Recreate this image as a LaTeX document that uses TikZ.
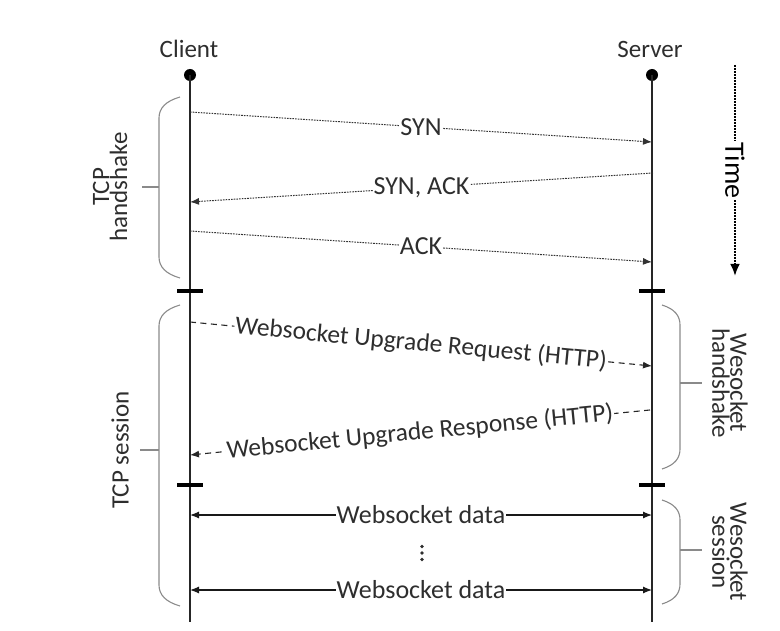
\documentclass[tikz,border=0pt]{standalone}
\usepackage{fontspec}
\setmainfont{Carlito}
\usetikzlibrary{arrows.meta}
\definecolor{inkgray}{HTML}{2E2E2E}
\definecolor{bracegray}{HTML}{8A8A8A}
\begin{document}
\begin{tikzpicture}[x=1pt,y=-1pt,
  lifeline/.style={line width=1.4pt, draw=black!85},
  lifedot/.style={circle, fill=black, inner sep=0pt, minimum size=12pt},
  actor/.style={text=inkgray, font=\fontsize{25}{28}\selectfont},
  tip/.style={-{Latex[length=9pt,width=7pt]}},
  tcpmsg/.style={draw=black!80, line width=1pt, dash pattern=on 1.6pt off 1.1pt, tip},
  wsmsg/.style={draw=black!85, line width=1.1pt, dash pattern=on 6pt off 4.5pt, tip},
  datamsg/.style={draw=black!90, line width=1.2pt, {Latex[length=9pt,width=7pt]}-{Latex[length=9pt,width=7pt]}},
  msglabel/.style={fill=white, inner sep=1pt, text=inkgray, font=\fontsize{26}{28}\selectfont},
  wslabel/.style={msglabel, font=\fontsize{25.5}{28}\selectfont},
  phasebar/.style={line width=3.5pt, draw=black},
  bracket/.style={draw=bracegray, line width=1.1pt},
  sidelabel/.style={text=inkgray, align=center, font=\fontsize{25}{18}\selectfont},
  timeline/.style={draw=black, line width=2.6pt, dash pattern=on 1.6pt off 1.4pt,
                   -{Latex[length=12pt,width=10pt]}}
]
\useasboundingbox (0,0) rectangle (780,631);

% actors and lifelines
\node[actor] (client) at (189,49) {Client};
\node[actor] (server) at (650,49) {Server};
\node[lifedot] (cdot) at (190,75) {};
\node[lifedot] (sdot) at (652,75) {};
\coordinate (cend) at (190,622);
\coordinate (send) at (652,622);
\draw[lifeline] (cdot.center) -- (cend);
\draw[lifeline] (sdot.center) -- (send);

% message end points on the lifelines
\coordinate (c1) at (190,112); \coordinate (s1) at (652,142);
\coordinate (s2) at (653,173); \coordinate (c2) at (190,202);
\coordinate (c3) at (190,231); \coordinate (s3) at (652,262);
\coordinate (c4) at (190,322); \coordinate (s4) at (652,366);
\coordinate (s5) at (650,410); \coordinate (c5) at (190,455);
\coordinate (c6) at (190,515); \coordinate (s6) at (652,515);
\coordinate (c7) at (190,590); \coordinate (s7) at (652,590);

% TCP three-way handshake
\draw[tcpmsg] (c1) -- node[msglabel] (syn) {SYN} (s1);
\draw[tcpmsg] (s2) -- node[msglabel] (synack) {SYN, ACK} (c2);
\draw[tcpmsg] (c3) -- node[msglabel] (ack) {ACK} (s3);

% WebSocket upgrade
\draw[wsmsg] (c4) -- node[wslabel, sloped] (wsreq) {Websocket Upgrade Request (HTTP)} (s4);
\draw[wsmsg] (s5) -- node[wslabel, sloped] (wsresp) {Websocket Upgrade Response (HTTP)} (c5);

% WebSocket data
\draw[datamsg] (c6) -- node[msglabel] (data1) {Websocket data} (s6);
\draw[datamsg] (c7) -- node[msglabel] (data2) {Websocket data} (s7);
\coordinate (more) at (422,553);
\foreach \dy in {-6.5,0,6.5}
  \fill[inkgray, shift={(more)}] (0,\dy) circle (1.8pt);

% phase separators
\draw[phasebar] (177,291) -- (203,291);
\draw[phasebar] (639,291) -- (665,291);
\draw[phasebar] (177,485) -- (203,485);
\draw[phasebar] (639,485) -- (665,485);

% time axis
\coordinate (t0) at (735,65);
\coordinate (t1) at (735,276);
\draw[timeline] (t0) -- node[fill=white, inner sep=1pt, rotate=-90, text=black,
  font=\fontsize{28}{30}\selectfont] (time) {Time} (t1);

% left brackets
\draw[bracket] (180,97) .. controls (166,101) and (159,108) .. (159,118)
  -- (159,257) .. controls (159,267) and (166,274) .. (180,278);
\draw[bracket] (142,187) -- (159,187);
\node[sidelabel, rotate=90] (tcphs) at (110,187) {TCP\\handshake};

\draw[bracket] (180,305) .. controls (166,309) and (159,316) .. (159,326)
  -- (159,585) .. controls (159,595) and (166,602) .. (180,606);
\draw[bracket] (140,450) -- (159,450);
\node[sidelabel, rotate=90] (tcpsess) at (120,450) {TCP session};

% right brackets
\draw[bracket] (662,305) .. controls (675,309) and (680,316) .. (680,325)
  -- (680,449) .. controls (680,458) and (675,465) .. (662,469);
\draw[bracket] (680,383) -- (702,383);
\node[sidelabel, rotate=-90] (wshs) at (730,383) {Wesocket\\handshake};

\draw[bracket] (662,500) .. controls (675,504) and (680,511) .. (680,520)
  -- (680,584) .. controls (680,593) and (675,600) .. (662,604);
\draw[bracket] (680,550) -- (702,550);
\node[sidelabel, rotate=-90] (wssess) at (730,552) {Wesocket\\session};
\end{tikzpicture}
\end{document}
